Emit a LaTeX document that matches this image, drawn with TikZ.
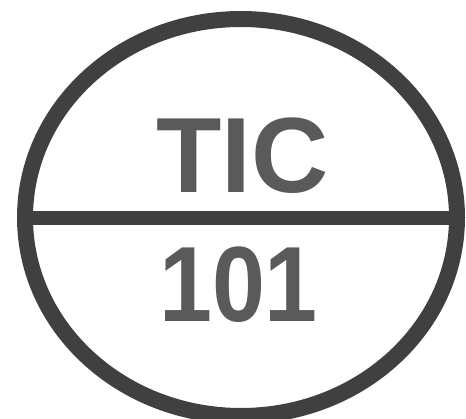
\documentclass[tikz,border=0pt]{standalone}
\usepackage{fontspec}
\setmainfont{Liberation Sans}
\usepackage{xcolor}
\usetikzlibrary{shapes.geometric, positioning}
\definecolor{tagline}{HTML}{404040}
\definecolor{tagtext}{HTML}{5A5A5A}

\begin{document}
\begin{tikzpicture}[x=1pt, y=1pt,
  every node/.style={inner sep=0pt, outer sep=0pt},
  bubble/.style={ellipse, draw=tagline, line width=16pt,
    minimum width=432pt, minimum height=397pt},
  tagtxt/.style={text=tagtext, font=\bfseries\fontsize{107}{107}\selectfont, anchor=base}
]
\useasboundingbox (0,0) rectangle (466,418);

% Instrument bubble
\node[bubble] (B) at (241, 200.5) {};

% Divider
\draw[tagline, line width=14pt] (B.west |- 0,200) -- (B.east |- 0,200);

% ---- Labels ----
\node[tagtxt] (F) at (242.5, 225) {TIC};
\node[tagtxt, xscale=0.89] (N) at (238.5, 96) {101};

\end{tikzpicture}
\end{document}
